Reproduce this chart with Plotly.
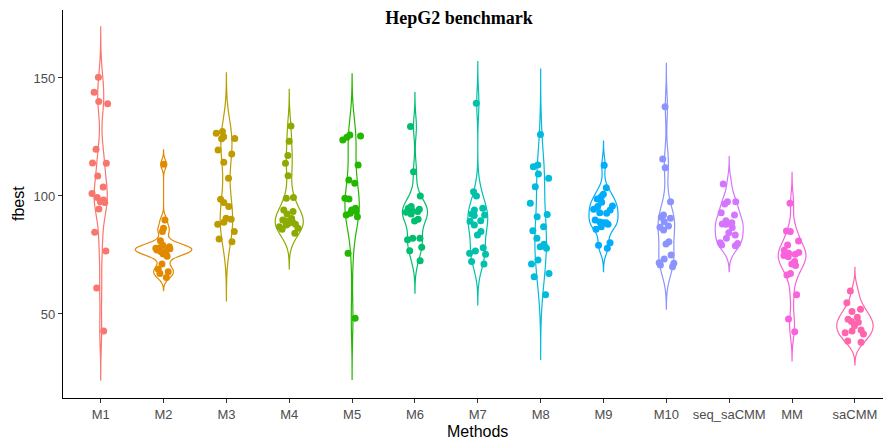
import numpy as np
import plotly.graph_objects as go

methods = ["M1", "M2", "M3", "M4", "M5", "M6", "M7", "M8", "M9", "M10",
           "seq_saCMM", "MM", "saCMM"]

colors = ["#F8766D", "#E18A00", "#BE9C00", "#8CAB00", "#24B700", "#00BE70",
          "#00C1AB", "#00BBDA", "#00ACFC", "#8B93FF", "#D575FE", "#F962DD",
          "#FF65AC"]

M1 = [150.3, 143.9, 140.0, 139.1, 119.8, 114.0, 113.9, 108.5, 103.8, 101.1,
      99.4, 98.3, 97.6, 97.2, 94.5, 84.6, 76.7, 61.0, 42.8]
M2 = [113.4, 89.8, 86.3, 84.9, 81.0, 79.2, 78.5, 78.0, 77.8, 77.6, 77.5, 77.2,
      77.1, 76.4, 75.7, 75.4, 74.5, 71.2, 68.9, 67.9, 67.2, 65.5]
M3 = [127.3, 126.6, 125.1, 124.4, 124.2, 119.5, 117.8, 114.3, 107.5, 98.6,
      97.2, 95.5, 90.6, 90.1, 88.9, 88.0, 84.9, 81.8, 80.6]
M4 = [129.7, 123.2, 117.1, 113.9, 108.6, 99.4, 99.0, 94.1, 93.4, 92.4, 90.5,
      89.8, 89.4, 89.0, 88.4, 88.0, 87.7, 87.0, 86.3, 85.9, 84.2]
M5 = [125.8, 125.4, 124.9, 123.7, 113.1, 106.8, 105.4, 99.0, 98.7, 94.8, 94.1,
      93.5, 92.7, 91.9, 91.2, 75.7, 48.2]
M6 = [129.4, 110.3, 100.0, 95.5, 94.8, 94.4, 93.8, 93.4, 93.1, 92.4, 90.1,
      89.4, 82.1, 82.1, 81.4, 78.3, 76.8, 72.6]
M7 = [139.3, 101.8, 100.0, 94.8, 94.1, 92.4, 91.9, 91.7, 89.5, 89.3, 87.7,
      84.9, 83.5, 78.1, 76.7, 75.7, 75.3, 72.2, 71.2]
M8 = [126.1, 113.1, 112.4, 109.3, 107.5, 103.9, 96.9, 92.2, 91.2, 87.0, 85.3,
      82.1, 79.5, 78.5, 77.8, 72.9, 71.2, 67.2, 65.8, 58.1]
M9 = [113.0, 103.5, 100.7, 99.7, 98.7, 97.3, 95.8, 95.5, 94.4, 94.1, 92.9,
      92.7, 89.8, 89.0, 88.7, 88.7, 88.0, 87.0, 85.9, 80.2, 79.1, 77.8]
M10 = [137.8, 115.7, 112.0, 97.6, 91.9, 91.0, 90.6, 89.1, 87.3, 86.7, 85.6,
       80.6, 79.7, 75.0, 73.3, 71.7, 71.5, 70.8, 70.0]
seq_saCMM = [105.1, 97.6, 97.6, 96.6, 92.9, 91.9, 89.5, 88.7, 88.1, 88.0, 86.6,
             84.4, 83.5, 82.1, 80.2, 79.9, 79.2, 78.9]
MM = [96.9, 85.2, 84.9, 80.9, 79.2, 77.0, 76.1, 75.7, 75.3, 74.8, 74.3, 72.2,
      71.2, 70.5, 67.2, 66.5, 58.1, 47.9, 42.5]
saCMM = [59.7, 54.8, 52.0, 51.0, 48.6, 47.8, 46.8, 46.5, 45.0, 43.2, 42.8, 42.1,
         41.5, 38.6, 38.0]

series = [M1, M2, M3, M4, M5, M6, M7, M8, M9, M10, seq_saCMM, MM, saCMM]

# violin extent (ggplot trim = FALSE, 3 bandwidths beyond data)
violin_top = [171.7, 119.5, 152.2, 145.2, 151.7, 143.8, 156.9, 153.8, 123.3,
              156.2, 116.7, 110.0, 69.8]
violin_bottom = [22.0, 59.9, 55.5, 69.1, 22.3, 58.8, 53.8, 30.8, 67.9, 52.0,
                 67.9, 30.1, 28.4]


def peak_density(vals, bw, lo, hi):
    v = np.asarray(vals)
    grid = np.linspace(lo, hi, 512)
    z = (grid[:, None] - v[None, :]) / bw
    dens = np.exp(-0.5 * z ** 2).sum(axis=1) / (len(v) * bw * np.sqrt(2 * np.pi))
    return dens.max()


bws, peaks = [], []
for vals, top, bot in zip(series, violin_top, violin_bottom):
    v = np.array(vals)
    bw = ((top - v.max()) + (v.min() - bot)) / 6.0
    bws.append(bw)
    peaks.append(peak_density(vals, bw, bot, top))
max_peak = max(peaks)

fig = go.Figure()
for i, (name, vals, col, top, bot) in enumerate(zip(methods, series, colors, violin_top, violin_bottom)):
    # ggplot scale = "area": widths proportional to each group's peak density
    w = float(0.9 * peaks[i] / max_peak)
    fig.add_trace(go.Violin(
        x=[name] * len(vals), y=vals, name=name,
        line=dict(color=col, width=1.2),
        fillcolor="rgba(0,0,0,0)",
        bandwidth=float(bws[i]), spanmode="manual", span=[bot, top],
        scalegroup="g%d" % i, scalemode="width", width=w,
        points=False, box_visible=False, meanline_visible=False,
        hoverinfo="skip", showlegend=False,
    ))
for i, (name, vals, col, top, bot) in enumerate(zip(methods, series, colors, violin_top, violin_bottom)):
    # jittered points (outline hidden)
    fig.add_trace(go.Violin(
        x=[name] * len(vals), y=vals, name=name,
        line=dict(color="rgba(0,0,0,0)", width=0),
        fillcolor="rgba(0,0,0,0)",
        bandwidth=float(bws[i]), spanmode="manual", span=[bot, top],
        scalegroup="p%d" % i, scalemode="width", width=0.9,
        points="all", jitter=0.42, pointpos=0,
        marker=dict(color=col, size=7, line=dict(width=0)),
        box_visible=False, meanline_visible=False,
        hoveron="points", showlegend=False,
    ))

fig.update_layout(
    width=883, height=444,
    margin=dict(l=63, r=0, t=10, b=46),
    paper_bgcolor="white", plot_bgcolor="white",
    violinmode="overlay",
    title=dict(text="<b>HepG2 benchmark</b>", x=459 / 883, xref="container",
               xanchor="center", y=1 - 18 / 444, yref="container", yanchor="middle",
               font=dict(family="Liberation Serif", size=18, color="black")),
    font=dict(family="Liberation Sans"),
    annotations=[
        dict(text="Methods", xref="paper", yref="paper", x=(477.6 - 63) / 820,
             y=(398 - 432) / 388, xanchor="center", yanchor="middle", showarrow=False,
             font=dict(size=16, color="black", family="Liberation Sans")),
        dict(text="fbest", xref="paper", yref="paper", x=(18 - 63) / 820, y=0.5,
             xanchor="center", yanchor="middle", textangle=-90, showarrow=False,
             font=dict(size=16, color="black", family="Liberation Sans")),
    ],
)
fig.update_xaxes(
    type="category", categoryorder="array", categoryarray=methods,
    range=[-0.6, 12.447], showgrid=False, zeroline=False, automargin=False,
    showline=True, linecolor="black", linewidth=1.3,
    ticks="outside", ticklen=4, tickcolor="#333333", tickwidth=1.1,
    tickfont=dict(size=13, color="#4d4d4d", family="Liberation Sans"),
)
fig.update_yaxes(
    range=[14.4, 178.8], tickvals=[50, 100, 150], showgrid=False, zeroline=False,
    automargin=False,
    showline=True, linecolor="black", linewidth=1.3,
    ticks="outside", ticklen=4, tickcolor="#333333", tickwidth=1.1,
    tickfont=dict(size=13, color="#4d4d4d", family="Liberation Sans"),
)

fig.write_html("out.html",
               config={"displayModeBar": False},
               post_script="document.body.style.margin='0px';document.body.style.padding='0px';")
